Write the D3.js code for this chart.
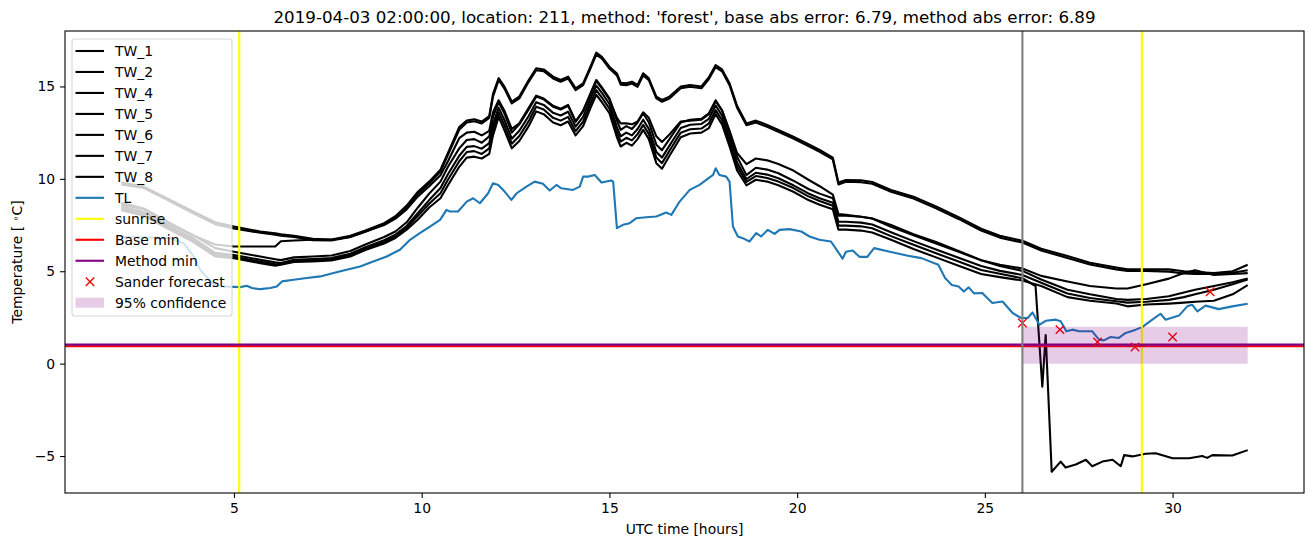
<!DOCTYPE html>
<html>
<head>
<meta charset="utf-8">
<script src="https://cdn.jsdelivr.net/npm/d3@7"></script>
<style>
  body { margin: 0; background: #fff; }
  svg text { font-family: "DejaVu Sans", sans-serif; fill: #000; }
</style>
</head>
<body>
<svg id="chart" width="1313" height="547"></svg>
<script>
// hours shared by the TW sensor series
const hoursTW = [
  2.0, 2.6, 3.3, 3.9, 4.5, 5.0, 5.7, 6.1, 6.25, 6.6,
  7.1, 7.6, 8.1, 8.5, 9.0, 9.3, 9.6, 9.9, 10.2, 10.5,
  10.7, 11.0, 11.2, 11.4, 11.6, 11.8, 11.9, 12.05, 12.2, 12.4,
  12.6, 12.85, 13.05, 13.25, 13.5, 13.7, 13.9, 14.1, 14.3, 14.5,
  14.65, 14.8, 15.0, 15.2, 15.3, 15.45, 15.6, 15.75, 15.9, 16.05,
  16.25, 16.4, 16.6, 16.9, 17.15, 17.45, 17.65, 17.83, 18.0, 18.2,
  18.4, 18.65, 18.9, 19.2, 19.5, 19.9, 20.3, 20.6, 20.95, 21.1,
  21.3, 21.7, 22.0, 22.5, 23.1, 23.7, 24.3, 24.9, 25.4, 26.0,
  26.5, 27.2, 27.8, 28.5, 28.8, 29.3, 29.9, 30.3, 30.6, 31.1,
  31.6, 32.0
];

const TW_1 = [
  9.8, 9.58, 8.86, 8.25, 7.65, 7.42, 7.15, 7.06, 7.0, 6.92,
  6.75, 6.72, 6.92, 7.2, 7.6, 7.98, 8.55, 9.3, 9.85, 10.5,
  11.4, 12.8, 13.15, 13.22, 13.1, 13.4, 14.6, 15.45, 15.0, 14.18,
  14.45, 15.35, 15.98, 15.92, 15.53, 15.35, 15.53, 14.9, 15.17, 16.1,
  16.83, 16.6, 16.07, 15.7, 15.2, 15.17, 15.26, 15.08, 15.71, 15.44,
  14.45, 14.27, 14.45, 15.0, 15.08, 15.0, 15.5, 16.16, 15.92, 15.17,
  13.95, 13.0, 13.15, 12.92, 12.65, 12.28, 11.88, 11.56, 11.15, 9.8,
  9.94, 9.92, 9.83, 9.4, 9.03, 8.5, 7.93, 7.3, 6.92, 6.65,
  6.22, 5.82, 5.46, 5.2, 5.1, 5.1, 5.1, 5.0, 4.95, 4.9,
  5.0, 5.35
];
const TW_2 = [
  9.7, 9.5, 8.78, 8.15, 7.55, 7.32, 7.08, 6.98, 6.92, 6.85,
  6.68, 6.66, 6.86, 7.14, 7.54, 7.9, 8.45, 9.2, 9.75, 10.4,
  11.3, 12.65, 13.05, 13.12, 13.0, 13.3, 14.45, 15.35, 14.9, 14.08,
  14.35, 15.25, 15.88, 15.82, 15.43, 15.25, 15.43, 14.8, 15.07, 16.0,
  16.72, 16.5, 15.97, 15.6, 15.1, 15.07, 15.16, 14.98, 15.6, 15.34,
  14.35, 14.17, 14.35, 14.9, 14.98, 14.9, 15.4, 16.05, 15.82, 15.07,
  13.85, 12.9, 13.05, 12.82, 12.55, 12.18, 11.78, 11.46, 11.05, 9.7,
  9.84, 9.82, 9.73, 9.3, 8.93, 8.4, 7.83, 7.2, 6.82, 6.55,
  6.12, 5.72, 5.36, 5.1, 5.02, 5.02, 4.98, 4.88, 4.85, 4.85,
  4.92, 5.05
];
const TW_4 = [
  8.6, 8.35, 7.55, 6.95, 6.45, 6.34, 6.34, 6.34, 6.62, 6.66,
  6.7, 6.7, 6.85, 7.15, 7.5, 7.85, 8.35, 9.05, 9.6, 10.2,
  10.95, 12.2, 12.5, 12.55, 12.35, 12.6, 13.6, 14.25, 13.7, 12.7,
  13.0, 13.85, 14.5, 14.35, 13.95, 13.8, 14.0, 13.1, 13.7, 14.6,
  15.3, 14.9, 14.3, 13.3, 13.0, 13.0, 12.95, 13.1, 13.6, 13.3,
  12.3, 12.0, 12.4, 13.1, 13.15, 13.2, 13.5, 14.2, 13.7, 12.6,
  11.4, 10.8, 11.1, 11.0, 10.8, 10.45, 9.95, 9.6, 9.15, 8.1,
  8.05, 7.95, 7.85, 7.5, 7.0, 6.58, 6.1, 5.6, 5.35, 5.15,
  4.75, 4.45, 4.2, 4.07, 4.07, 4.3, 4.6, 4.9, 5.05, 4.8,
  4.85, 4.9
];
const TW_5 = [
  8.7, 8.4, 7.6, 6.97, 6.25, 6.05, 5.8, 5.65, 5.6, 5.75,
  5.8, 5.85, 6.1, 6.45, 6.85, 7.15, 7.65, 8.45, 9.2, 9.85,
  10.65, 11.65, 12.1, 12.15, 11.95, 12.3, 13.35, 14.15, 13.55, 12.5,
  12.95, 13.75, 14.45, 14.3, 13.9, 13.75, 13.95, 13.1, 13.65, 14.65,
  15.35, 14.95, 14.35, 13.15, 12.65, 12.85, 12.7, 13.05, 13.55, 13.05,
  11.85, 11.55, 12.15, 13.05, 13.2, 13.25, 13.55, 14.25, 13.7, 12.55,
  11.2, 10.2, 10.6, 10.5, 10.3, 9.9, 9.45, 9.2, 8.95, 8.0,
  8.0, 7.95, 7.85, 7.4, 6.95, 6.5, 6.05, 5.6, 5.28, 5.02,
  4.55, 4.0, 3.75, 3.5, 3.45, 3.5, 3.65, 3.85, 4.0, 4.2,
  4.4, 4.6
];
const TW_6 = [
  8.5, 8.2, 7.42, 6.8, 6.0, 5.88, 5.62, 5.48, 5.45, 5.62,
  5.66, 5.72, 5.95, 6.3, 6.68, 6.98, 7.45, 8.15, 8.85, 9.5,
  10.25, 11.25, 11.73, 11.77, 11.63, 11.93, 12.95, 13.85, 13.2, 12.17,
  12.6, 13.4, 14.15, 14.0, 13.57, 13.43, 13.63, 12.83, 13.35, 14.35,
  15.05, 14.65, 14.05, 12.8, 12.3, 12.5, 12.35, 12.7, 13.2, 12.7,
  11.45, 11.15, 11.8, 12.75, 12.93, 12.97, 13.25, 13.97, 13.43, 12.25,
  10.88, 9.98, 10.33, 10.23, 10.03, 9.65, 9.21, 8.95, 8.71, 7.68,
  7.68, 7.63, 7.53, 7.11, 6.63, 6.18, 5.73, 5.28, 5.02, 4.8,
  4.38, 3.8, 3.55, 3.38, 3.3, 3.35, 3.45, 3.6, 3.75, 4.0,
  4.3, 4.55
];
const TW_7 = [
  8.3, 8.0, 7.24, 6.6, 5.8, 5.7, 5.44, 5.3, 5.35, 5.5,
  5.53, 5.58, 5.8, 6.15, 6.5, 6.8, 7.25, 7.8, 8.45, 8.95,
  9.65, 10.65, 11.15, 11.2, 11.1, 11.35, 12.35, 13.35, 12.65, 11.65,
  12.05, 12.85, 13.65, 13.5, 13.05, 12.9, 13.1, 12.35, 12.85, 13.85,
  14.55, 14.15, 13.55, 12.25, 11.75, 11.95, 11.8, 12.15, 12.65, 12.15,
  10.85, 10.55, 11.25, 12.25, 12.45, 12.5, 12.75, 13.5, 12.95, 11.75,
  10.45, 9.65, 9.95, 9.85, 9.65, 9.3, 8.85, 8.6, 8.35, 7.25,
  7.25, 7.2, 7.1, 6.7, 6.2, 5.75, 5.3, 4.85, 4.68, 4.5,
  4.2, 3.6, 3.4, 3.25, 3.1, 3.2, 3.25, 3.3, 3.35, 3.4,
  3.75, 4.25
];

// TW_8 fails after the forecast time, so it has its own hours
const hoursTW8 = [
  2.0, 2.6, 3.3, 3.9, 4.5, 5.0, 5.7, 6.1, 6.25, 6.6,
  7.1, 7.6, 8.1, 8.5, 9.0, 9.3, 9.6, 9.9, 10.2, 10.5,
  10.7, 11.0, 11.2, 11.4, 11.6, 11.8, 11.9, 12.05, 12.2, 12.4,
  12.6, 12.85, 13.05, 13.25, 13.5, 13.7, 13.9, 14.1, 14.3, 14.5,
  14.65, 14.8, 15.0, 15.2, 15.3, 15.45, 15.6, 15.75, 15.9, 16.05,
  16.25, 16.4, 16.6, 16.9, 17.15, 17.45, 17.65, 17.83, 18.0, 18.2,
  18.4, 18.65, 18.9, 19.2, 19.5, 19.9, 20.3, 20.6, 20.95, 21.1,
  21.3, 21.7, 22.0, 22.5, 23.1, 23.7, 24.3, 24.9, 25.4, 26.0,
  26.35, 26.53, 26.62, 26.78, 27.02, 27.15, 27.42, 27.69, 27.86, 28.13,
  28.4, 28.62, 28.71, 28.93, 29.28, 29.55, 30.0, 30.44, 30.79, 30.92,
  31.06, 31.59, 32.0
];
const TW_8 = [
  8.4, 8.1, 7.33, 6.7, 5.9, 5.78, 5.52, 5.38, 5.4, 5.56,
  5.6, 5.65, 5.88, 6.22, 6.58, 6.88, 7.35, 8.0, 8.65, 9.22,
  9.95, 10.95, 11.45, 11.5, 11.35, 11.65, 12.65, 13.6, 12.92, 11.9,
  12.32, 13.12, 13.9, 13.75, 13.3, 13.15, 13.35, 12.58, 13.1, 14.1,
  14.8, 14.4, 13.8, 12.52, 12.02, 12.22, 12.08, 12.42, 12.92, 12.42,
  11.15, 10.85, 11.52, 12.5, 12.68, 12.72, 13.0, 13.72, 13.18, 12.0,
  10.67, 9.83, 10.15, 10.05, 9.85, 9.5, 9.05, 8.8, 8.55, 7.47,
  7.47, 7.43, 7.33, 6.9, 6.43, 5.97, 5.53, 5.07, 4.86, 4.62,
  4.2, -1.25, 1.55, -5.85, -5.3, -5.62, -5.46, -5.2, -5.55, -5.3,
  -5.2, -5.55, -4.95, -5.02, -4.88, -4.85, -5.12, -5.12, -5.0, -5.1,
  -4.95, -4.97, -4.68
];

// air temperature TL
const hoursTL = [
  2.0, 2.6, 3.3, 3.66, 3.93, 4.1, 4.46, 4.64, 5.17, 5.34,
  5.48, 5.7, 5.97, 6.14, 6.28, 6.59, 6.94, 7.3, 7.65, 8.0,
  8.36, 8.71, 9.07, 9.42, 9.69, 9.95, 10.22, 10.49, 10.66, 10.75,
  10.97, 11.2, 11.37, 11.55, 11.77, 11.9, 12.04, 12.17, 12.39, 12.53,
  12.79, 13.01, 13.23, 13.41, 13.59, 13.72, 14.03, 14.21, 14.3, 14.43,
  14.61, 14.79, 15.05, 15.1, 15.2, 15.36, 15.54, 15.72, 15.98, 16.25,
  16.51, 16.65, 16.87, 17.14, 17.4, 17.58, 17.76, 17.83, 17.93, 18.11,
  18.2, 18.29, 18.42, 18.55, 18.73, 18.91, 19.04, 19.22, 19.4, 19.53,
  19.8, 20.11, 20.33, 20.59, 20.9, 21.04, 21.21, 21.3, 21.48, 21.66,
  21.87, 22.05, 22.41, 22.95, 23.31, 23.76, 23.94, 24.12, 24.3, 24.44,
  24.57, 24.71, 24.93, 25.2, 25.47, 25.74, 25.96, 26.14, 26.27, 26.45,
  26.62, 26.89, 27.02, 27.17, 27.33, 27.51, 27.86, 28.04, 28.17, 28.35,
  28.57, 28.75, 29.02, 29.19, 29.46, 29.68, 29.81, 30.17, 30.39, 30.52,
  30.66, 30.88, 31.23, 31.59, 32.0
];
const TL = [
  6.85, 6.84, 6.79, 6.52, 5.8, 5.08, 4.27, 4.18, 4.14, 4.21,
  4.09, 4.03, 4.09, 4.18, 4.45, 4.54, 4.63, 4.72, 4.9, 5.08,
  5.26, 5.53, 5.8, 6.16, 6.7, 7.06, 7.42, 7.78, 8.32, 8.23,
  8.23, 8.77, 8.95, 8.68, 9.22, 9.76, 9.67, 9.4, 8.86, 9.22,
  9.58, 9.85, 9.73, 9.37, 9.67, 9.49, 9.4, 9.58, 10.12, 10.12,
  10.21, 9.8, 9.91, 9.85, 7.33, 7.51, 7.6, 7.87, 7.92, 7.96,
  8.18, 8.05, 8.77, 9.4, 9.67, 9.94, 10.21, 10.57, 10.21, 10.12,
  9.85, 7.42, 6.88, 6.79, 6.61, 7.06, 6.88, 7.24, 7.02, 7.24,
  7.28, 7.15, 6.88, 6.7, 6.61, 6.2, 5.68, 6.05, 6.12, 5.78,
  5.78, 6.25, 6.08, 5.84, 5.71, 5.35, 4.63, 4.26, 4.17, 3.9,
  4.13, 3.8, 3.82, 3.28, 3.36, 2.74, 2.47, 2.47, 2.77, 2.1,
  2.32, 2.38, 2.29, 1.75, 1.84, 1.75, 1.75, 1.3, 1.26, 1.44,
  1.39, 1.66, 1.84, 1.98, 2.38, 2.7, 2.38, 2.6, 3.1, 3.19,
  2.83, 3.14, 2.95, 3.1, 3.24
];

const sunriseHours = [5.14, 29.18];
const forecastHour = 26.0;
const baseMin = 0.94;
const methodMin = 1.03;

const sanderHours = [26, 27, 28, 29, 30, 31];
const sanderValues = [2.2, 1.84, 1.17, 0.9, 1.44, 3.89];

const confHours = [26, 32];
const confLower = [0, 0];
const confUpper = [2, 2];

const xTicks = [5, 10, 15, 20, 25, 30];
const yTicks = [-5, 0, 5, 10, 15];

const titleText = "2019-04-03 02:00:00, location: 211, method: 'forest', base abs error: 6.79, method abs error: 6.89";

// ---- layout ----
const plotLeft = 65, plotRight = 1304, plotTop = 31, plotBottom = 493;
const svg = d3.select("#chart");

const x = d3.scaleLinear().domain([0.5, 33.5]).range([plotLeft, plotRight]);
const y = d3.scaleLinear().domain([-7.0, 18.0]).range([plotBottom, plotTop]);

svg.append("clipPath").attr("id", "plot-clip")
  .append("rect")
  .attr("x", plotLeft).attr("y", plotTop)
  .attr("width", plotRight - plotLeft).attr("height", plotBottom - plotTop);

const plot = svg.append("g").attr("clip-path", "url(#plot-clip)");

const line = d3.line()
  .x(d => x(d[0]))
  .y(d => y(d[1]));

// TW lines
const twSeries = [
  [hoursTW, TW_1], [hoursTW, TW_2], [hoursTW, TW_4], [hoursTW, TW_5],
  [hoursTW, TW_6], [hoursTW, TW_7], [hoursTW8, TW_8]
];
twSeries.forEach(function(s) {
  plot.append("path")
    .datum(d3.zip(s[0], s[1]))
    .attr("d", line)
    .attr("fill", "none")
    .attr("stroke", "#000")
    .attr("stroke-width", 2.1)
    .attr("stroke-linejoin", "round");
});

// TL line
plot.append("path")
  .datum(d3.zip(hoursTL, TL))
  .attr("d", line)
  .attr("fill", "none")
  .attr("stroke", "#1f77b4")
  .attr("stroke-width", 2.1)
  .attr("stroke-linejoin", "round");

// sunrise lines
plot.selectAll(".sunrise")
  .data(sunriseHours)
  .enter().append("line")
  .attr("x1", d => x(d)).attr("x2", d => x(d))
  .attr("y1", plotTop).attr("y2", plotBottom)
  .attr("stroke", "#ffff00")
  .attr("stroke-width", 2.1);

// base min and method min
plot.append("line")
  .attr("x1", plotLeft).attr("x2", plotRight)
  .attr("y1", y(baseMin)).attr("y2", y(baseMin))
  .attr("stroke", "#ff0000").attr("stroke-width", 2.1);
plot.append("line")
  .attr("x1", plotLeft).attr("x2", plotRight)
  .attr("y1", y(methodMin)).attr("y2", y(methodMin))
  .attr("stroke", "#800080").attr("stroke-width", 2.1);

// Sander forecast crosses
const cross = function(g, cx, cy, r) {
  g.append("path")
    .attr("d", `M${cx - r},${cy - r}L${cx + r},${cy + r}M${cx - r},${cy + r}L${cx + r},${cy - r}`)
    .attr("stroke", "#ff0000")
    .attr("stroke-width", 1.4)
    .attr("fill", "none");
};
d3.zip(sanderHours, sanderValues).forEach(function(d) {
  cross(plot, x(d[0]), y(d[1]), 4.2);
});

// confidence band
const area = d3.area()
  .x(d => x(d[0]))
  .y0(d => y(d[1]))
  .y1(d => y(d[2]));
plot.append("path")
  .datum(d3.zip(confHours, confLower, confUpper))
  .attr("d", area)
  .attr("fill", "#800080")
  .attr("fill-opacity", 0.2);

// forecast time
plot.append("line")
  .attr("x1", x(forecastHour)).attr("x2", x(forecastHour))
  .attr("y1", plotTop).attr("y2", plotBottom)
  .attr("stroke", "#808080")
  .attr("stroke-width", 2.1);

// ---- axes ----
const xAxis = svg.append("g")
  .attr("transform", `translate(0,${plotBottom})`)
  .call(d3.axisBottom(x).tickValues(xTicks).tickSize(4.9).tickPadding(4.9).tickFormat(d3.format("d")));
const yAxis = svg.append("g")
  .attr("transform", `translate(${plotLeft},0)`)
  .call(d3.axisLeft(y).tickValues(yTicks).tickSize(4.9).tickPadding(4.9)
    .tickFormat(d => d < 0 ? "\u2212" + Math.abs(d) : d));

[xAxis, yAxis].forEach(function(a) {
  a.select(".domain").remove();
  a.selectAll(".tick line").attr("stroke", "#000").attr("stroke-width", 1.1);
  a.selectAll(".tick text")
    .attr("font-family", "DejaVu Sans")
    .attr("font-size", "13.9px")
    .attr("fill", "#000");
});

// frame
svg.append("rect")
  .attr("x", plotLeft).attr("y", plotTop)
  .attr("width", plotRight - plotLeft).attr("height", plotBottom - plotTop)
  .attr("fill", "none")
  .attr("stroke", "#000")
  .attr("stroke-width", 1.1);

// labels
svg.append("text")
  .attr("x", (plotLeft + plotRight) / 2).attr("y", 23)
  .attr("text-anchor", "middle")
  .attr("font-size", "16.7px")
  .text(titleText);

svg.append("text")
  .attr("x", (plotLeft + plotRight) / 2).attr("y", 534)
  .attr("text-anchor", "middle")
  .attr("font-size", "13.9px")
  .text("UTC time [hours]");

const ylab = svg.append("text")
  .attr("transform", `translate(22,${(plotTop + plotBottom) / 2}) rotate(-90)`)
  .attr("text-anchor", "middle")
  .attr("font-size", "13.9px");
ylab.append("tspan").text("Temperature [ ");
ylab.append("tspan").attr("baseline-shift", "35%").attr("font-size", "9.7px").text("\u2218");
ylab.append("tspan").text("C]");

// ---- legend ----
const legendItems = [
  { label: "TW_1", kind: "line", color: "#000" },
  { label: "TW_2", kind: "line", color: "#000" },
  { label: "TW_4", kind: "line", color: "#000" },
  { label: "TW_5", kind: "line", color: "#000" },
  { label: "TW_6", kind: "line", color: "#000" },
  { label: "TW_7", kind: "line", color: "#000" },
  { label: "TW_8", kind: "line", color: "#000" },
  { label: "TL", kind: "line", color: "#1f77b4" },
  { label: "sunrise", kind: "line", color: "#ffff00" },
  { label: "Base min", kind: "line", color: "#ff0000" },
  { label: "Method min", kind: "line", color: "#800080" },
  { label: "Sander forecast", kind: "cross", color: "#ff0000" },
  { label: "95% confidence", kind: "patch", color: "#800080" }
];

const legend = svg.append("g");
legend.append("rect")
  .attr("x", 72).attr("y", 39)
  .attr("width", 160).attr("height", 277)
  .attr("rx", 3).attr("ry", 3)
  .attr("fill", "#fff").attr("fill-opacity", 0.8)
  .attr("stroke", "#cccccc").attr("stroke-opacity", 0.8)
  .attr("stroke-width", 1.1);

const rowY = d3.scaleLinear().domain([0, legendItems.length - 1]).range([51, 302.7]);
legendItems.forEach(function(item, i) {
  const cy = rowY(i);
  if (item.kind === "line") {
    legend.append("line")
      .attr("x1", 75.5).attr("x2", 104)
      .attr("y1", cy).attr("y2", cy)
      .attr("stroke", item.color).attr("stroke-width", 2.1);
  } else if (item.kind === "cross") {
    cross(legend, 90, cy, 4.2);
  } else {
    legend.append("rect")
      .attr("x", 75.5).attr("y", cy - 5)
      .attr("width", 28.5).attr("height", 10)
      .attr("fill", item.color).attr("fill-opacity", 0.2);
  }
  legend.append("text")
    .attr("x", 115).attr("y", cy + 5.3)
    .attr("font-size", "13.9px")
    .text(item.label);
});
</script>
</body>
</html>
